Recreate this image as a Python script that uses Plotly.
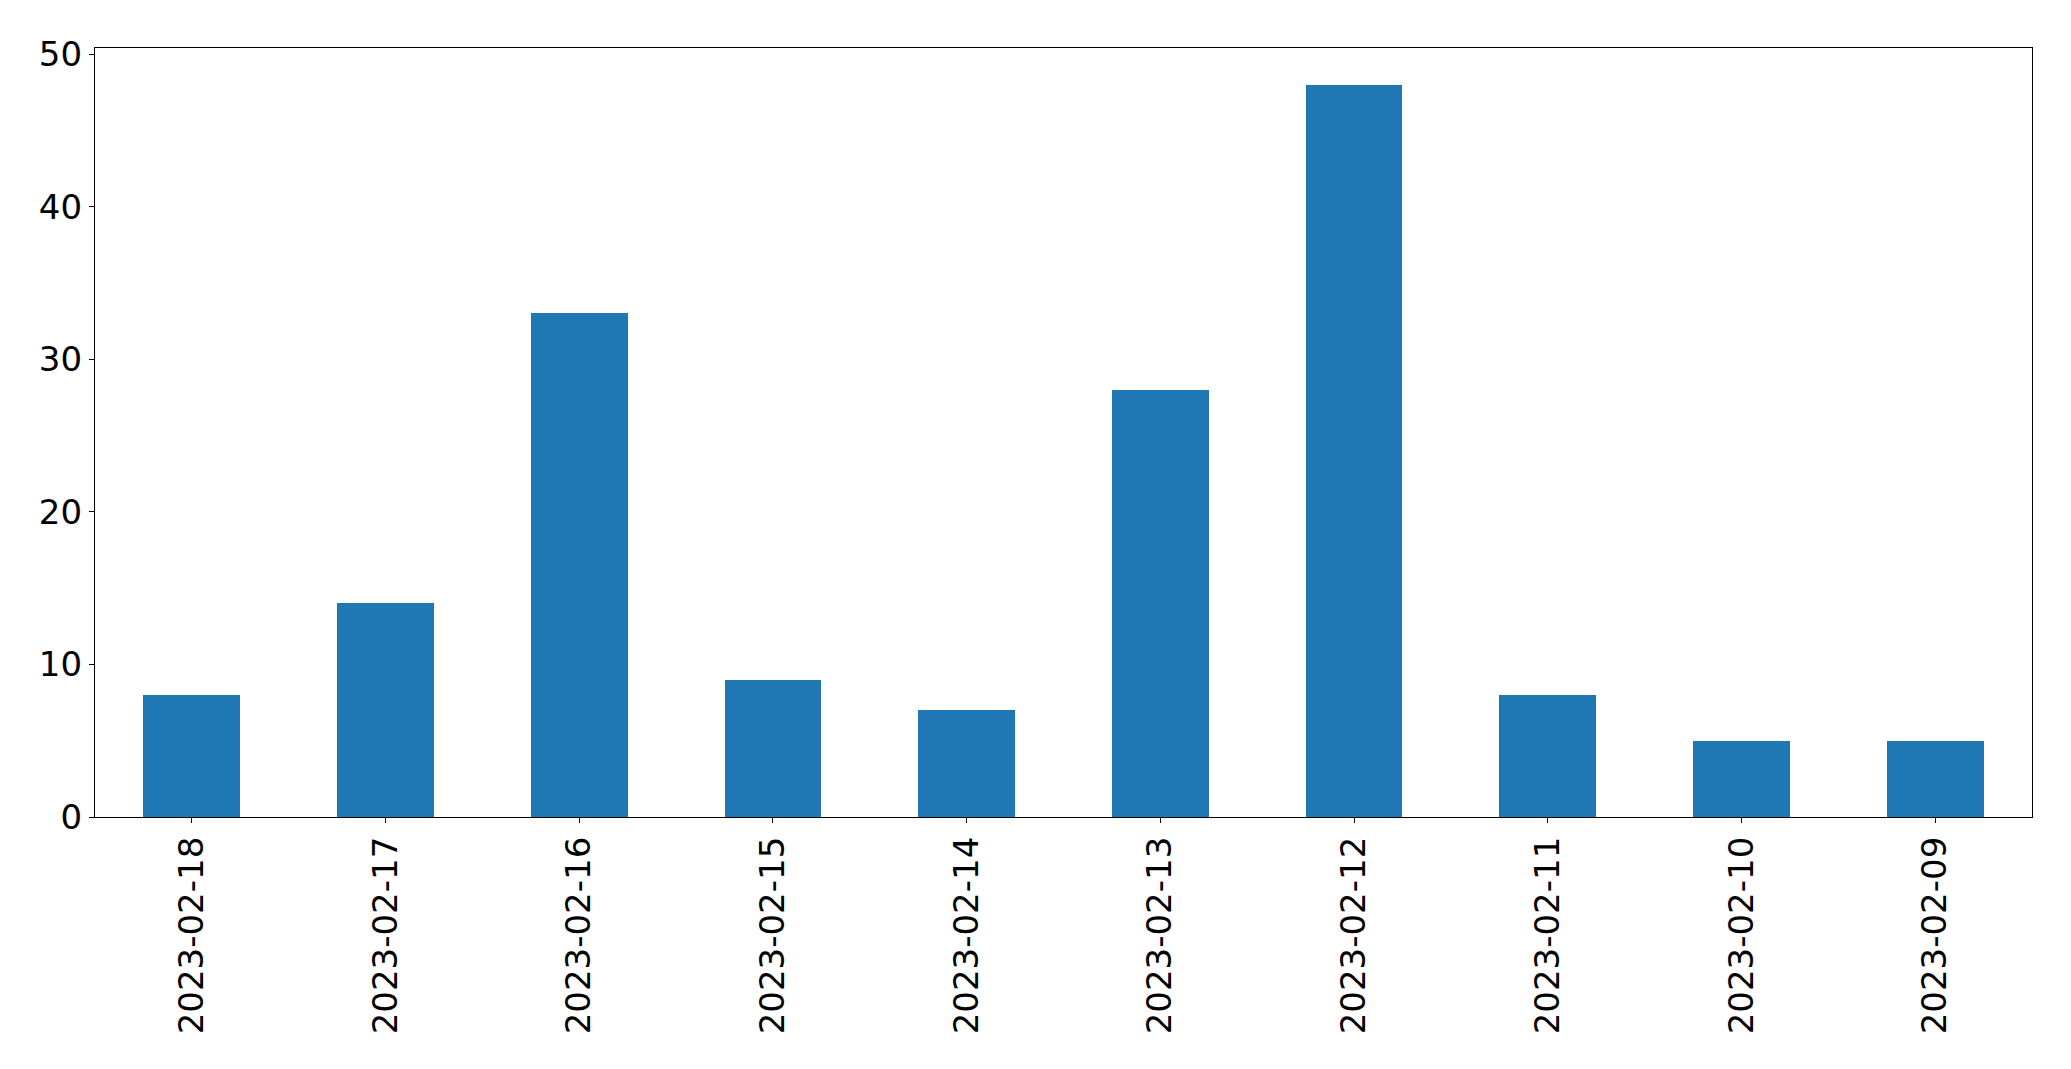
import plotly.graph_objects as go

dates = ["2023-02-18", "2023-02-17", "2023-02-16", "2023-02-15", "2023-02-14",
         "2023-02-13", "2023-02-12", "2023-02-11", "2023-02-10", "2023-02-09"]
counts = [8, 14, 33, 9, 7, 28, 48, 8, 5, 5]

fig = go.Figure(go.Bar(x=dates, y=counts, marker_color="#1f77b4", width=0.5,
                       marker_line_width=0))

font = dict(family="DejaVu Sans", size=34, color="black")
fig.update_layout(
    width=2063, height=1061,
    margin=dict(l=87, r=39, t=39.5, b=252, autoexpand=False),
    plot_bgcolor="white", paper_bgcolor="white",
    showlegend=False,
    font=font,
    bargap=0,
)
fig.update_xaxes(type="category", range=[-0.5, 9.5], tickangle=-90,
                 showline=True, linecolor="black", linewidth=1.3, mirror=True,
                 ticks="outside", ticklen=5, tickcolor="black", tickwidth=1.3,
                 showgrid=False, zeroline=False, tickfont=font)
fig.update_yaxes(range=[0, 50.4], tickvals=[0, 10, 20, 30, 40, 50],
                 showline=True, linecolor="black", linewidth=1.3, mirror=True,
                 ticks="outside", ticklen=5, tickcolor="black", tickwidth=1.3,
                 showgrid=False, zeroline=False, tickfont=font)

fig.write_html("out.html")
